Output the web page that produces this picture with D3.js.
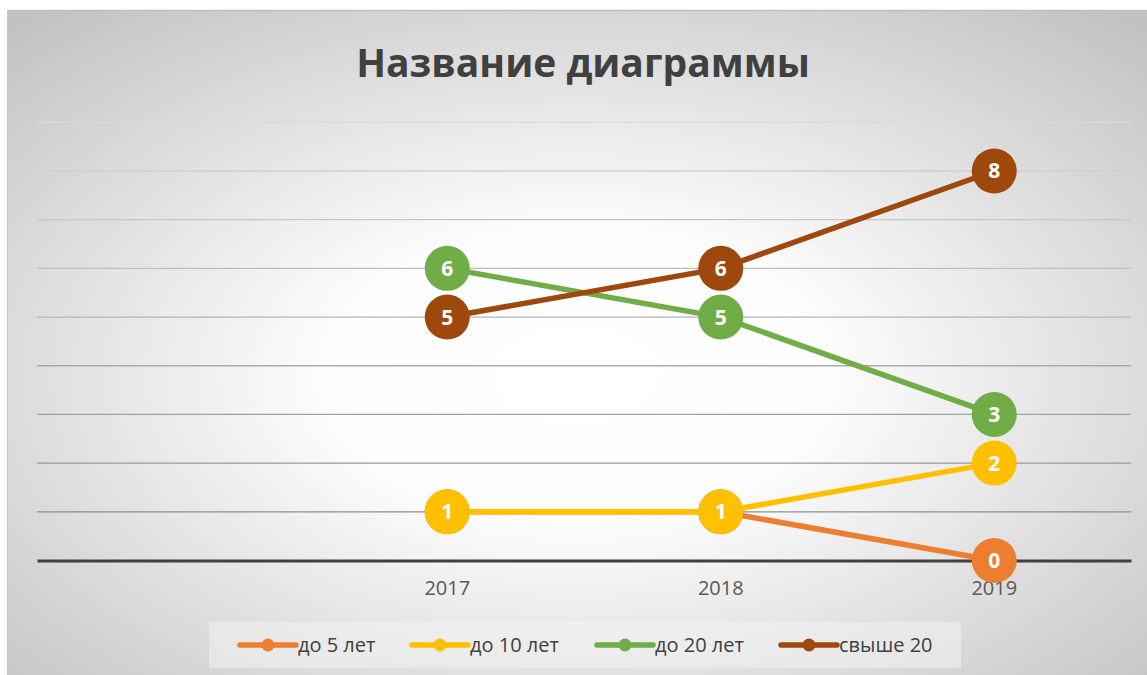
<!DOCTYPE html>
<html>
<head>
<meta charset="utf-8">
<script src="https://cdn.jsdelivr.net/npm/d3@7"></script>
<style>
  body { margin: 0; background: #fff; }
  svg { display: block; font-family: "Open Sans", "Noto Sans", sans-serif; }
</style>
</head>
<body>
<svg id="chart"></svg>
<script>
const width = 1147;
const height = 675;

// Categories (first slot is empty in the source sheet)
const categories = ["", "2017", "2018", "2019"];
const years = ["2017", "2018", "2019"];
const yTicks = [0, 1, 2, 3, 4, 5, 6, 7, 8, 9];

const seriesNames = ["до 5 лет", "до 10 лет", "до 20 лет", "свыше 20"];
const seriesColors = ["#ed7d31", "#ffc000", "#70ad47", "#9e480e"];
const upTo5 = [1, 1, 0];
const upTo10 = [1, 1, 2];
const upTo20 = [6, 5, 3];
const over20 = [5, 6, 8];
const seriesValues = [upTo5, upTo10, upTo20, over20];

const svg = d3.select("#chart")
  .attr("width", width)
  .attr("height", height);

// Background gradient
const defs = svg.append("defs");
const bg = defs.append("radialGradient")
  .attr("id", "bg")
  .attr("cx", "0.5").attr("cy", "0.55").attr("r", "0.72");
bg.append("stop").attr("offset", "0%").attr("stop-color", "#ffffff");
bg.append("stop").attr("offset", "30%").attr("stop-color", "#fdfdfd");
bg.append("stop").attr("offset", "100%").attr("stop-color", "#c2c2c2");

svg.append("rect")
  .attr("x", 7).attr("y", 10)
  .attr("width", width - 7).attr("height", height - 10)
  .attr("fill", "url(#bg)");
svg.append("line")
  .attr("x1", 7).attr("x2", width).attr("y1", 10.5).attr("y2", 10.5)
  .attr("stroke", "#bfbfbf").attr("stroke-width", 1.5);
svg.append("line")
  .attr("x1", 7.5).attr("x2", 7.5).attr("y1", 10).attr("y2", height)
  .attr("stroke", "#c8c8c8").attr("stroke-width", 1);

// Title
svg.append("text")
  .attr("x", 583).attr("y", 77)
  .attr("text-anchor", "middle")
  .attr("font-size", 39)
  .attr("font-weight", "bold")
  .attr("fill", "#404040")
  .text("Название диаграммы");

const plotLeft = 37;
const plotRight = 1131;

const x = d3.scaleBand()
  .domain(categories)
  .range([plotLeft, plotRight]);

const y = d3.scaleLinear()
  .domain([0, 9])
  .range([560.5, 122.3]);

const gridColor = d3.scaleLinear()
  .domain([9, 1])
  .range(["#dadada", "#8e8e8e"]);

// Gridlines
svg.append("g")
  .selectAll("line")
  .data(yTicks.filter(d => d > 0))
  .enter().append("line")
  .attr("x1", plotLeft).attr("x2", plotRight)
  .attr("y1", d => y(d)).attr("y2", d => y(d))
  .attr("stroke", d => gridColor(d))
  .attr("stroke-width", 1.3);

// Category axis
const xAxis = svg.append("g")
  .attr("transform", `translate(0, ${y(0)})`)
  .call(d3.axisBottom(x).tickSize(0).tickPadding(20));
xAxis.select(".domain")
  .attr("stroke", "#404040")
  .attr("stroke-width", 3.2);
xAxis.selectAll("text")
  .attr("font-size", 20)
  .attr("fill", "#595959")
  .attr("font-family", "'Open Sans', 'Noto Sans', sans-serif");

// Series lines and markers
const line = d3.line()
  .x((d, i) => x(years[i]) + x.bandwidth() / 2)
  .y(d => y(d));

const seriesG = svg.append("g");
seriesValues.forEach((vals, s) => {
  const g = seriesG.append("g");
  g.append("path")
    .datum(vals)
    .attr("d", line)
    .attr("fill", "none")
    .attr("stroke", seriesColors[s])
    .attr("stroke-width", 5.5)
    .attr("stroke-linecap", "round");
  g.selectAll("circle")
    .data(vals)
    .enter().append("circle")
    .attr("cx", (d, i) => x(years[i]) + x.bandwidth() / 2)
    .attr("cy", d => y(d))
    .attr("r", 22.5)
    .attr("fill", seriesColors[s]);
  g.selectAll("text")
    .data(vals)
    .enter().append("text")
    .attr("x", (d, i) => x(years[i]) + x.bandwidth() / 2)
    .attr("y", d => y(d) + 7.5)
    .attr("text-anchor", "middle")
    .attr("font-size", 21)
    .attr("font-weight", "bold")
    .attr("fill", "#ffffff")
    .text(d => d);
});

// Legend
const legend = svg.append("g");
legend.append("rect")
  .attr("x", 209).attr("y", 622)
  .attr("width", 752).attr("height", 46)
  .attr("fill", "#f2f2f2")
  .attr("fill-opacity", 0.55);

const legendX = [240, 412, 597, 781];
seriesNames.forEach((name, s) => {
  const lg = legend.append("g")
    .attr("transform", `translate(${legendX[s]}, 645)`);
  lg.append("line")
    .attr("x1", 0).attr("x2", 56)
    .attr("stroke", seriesColors[s])
    .attr("stroke-width", 5.5)
    .attr("stroke-linecap", "round");
  lg.append("circle")
    .attr("cx", 28).attr("r", 6.5)
    .attr("fill", seriesColors[s]);
  lg.append("text")
    .attr("x", 58).attr("y", 7)
    .attr("font-size", 20)
    .attr("fill", "#404040")
    .text(name);
});
</script>
</body>
</html>
